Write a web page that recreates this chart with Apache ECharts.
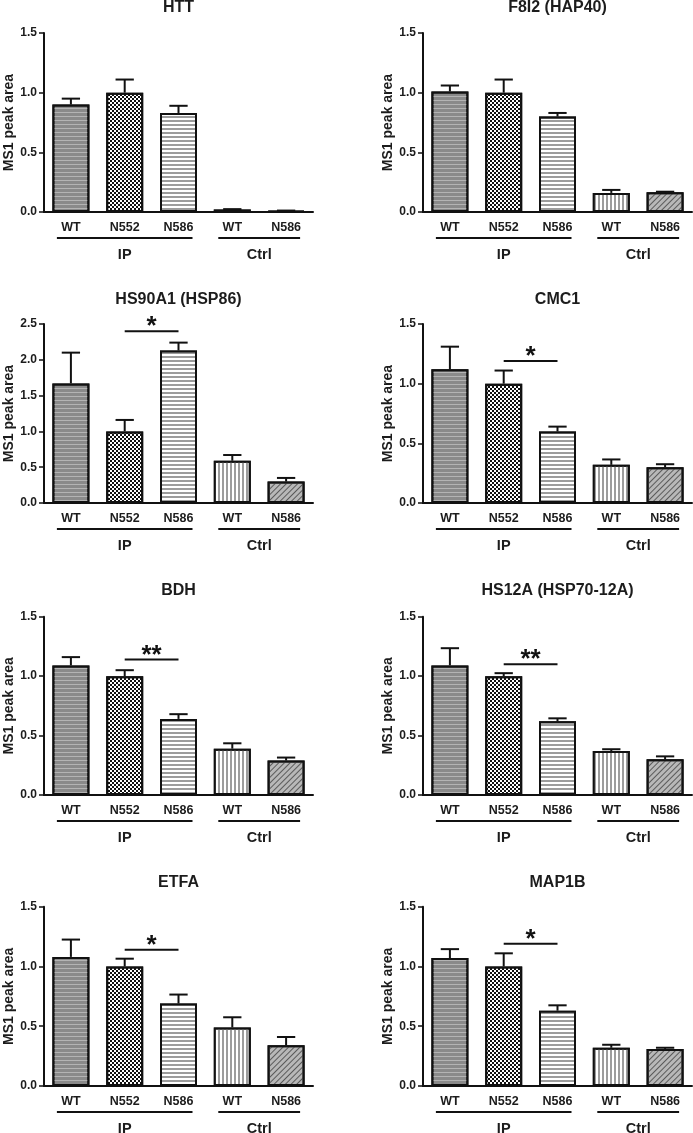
<!DOCTYPE html>
<html><head><meta charset="utf-8">
<script src="https://cdn.jsdelivr.net/npm/echarts@6/dist/echarts.min.js"></script>
<style>html,body{margin:0;padding:0;background:#fff}#c{width:693px;height:1133px}</style>
</head><body><div id="c"></div>
<script>
// ---- data ----
const categories = ['WT', 'N552', 'N586', 'WT', 'N586'];
const groupLabels = ['IP', 'Ctrl'];
const groupStart = [0, 3];
const groupEnd = [2, 4];
const titles = ['HTT', 'F8I2 (HAP40)', 'HS90A1 (HSP86)', 'CMC1', 'BDH', 'HS12A (HSP70-12A)', 'ETFA', 'MAP1B'];
const yMax = [1.5, 1.5, 2.5, 1.5, 1.5, 1.5, 1.5, 1.5];

const httMean = [0.90, 1.00, 0.83, 0.02, 0.01];
const httSem = [0.05, 0.11, 0.06, 0.004, 0.002];
const f8i2Mean = [1.01, 1.00, 0.80, 0.16, 0.165];
const f8i2Sem = [0.05, 0.11, 0.03, 0.025, 0.005];
const hs90Mean = [1.67, 1.00, 2.13, 0.59, 0.30];
const hs90Sem = [0.43, 0.16, 0.11, 0.08, 0.05];
const cmc1Mean = [1.12, 1.00, 0.60, 0.32, 0.30];
const cmc1Sem = [0.19, 0.11, 0.04, 0.045, 0.025];
const bdhMean = [1.09, 1.00, 0.64, 0.39, 0.29];
const bdhSem = [0.07, 0.05, 0.04, 0.045, 0.025];
const hs12Mean = [1.09, 1.00, 0.62, 0.37, 0.30];
const hs12Sem = [0.145, 0.025, 0.025, 0.015, 0.025];
const etfaMean = [1.08, 1.00, 0.69, 0.49, 0.34];
const etfaSem = [0.145, 0.065, 0.075, 0.085, 0.07];
const map1bMean = [1.07, 1.00, 0.63, 0.32, 0.31];
const map1bSem = [0.075, 0.11, 0.045, 0.025, 0.01];

// significance: [from index, to index, y value, label]
const sigHS90 = [1, 2, 2.40, '*'];
const sigCMC1 = [1, 2, 1.19, '*'];
const sigBDH = [1, 2, 1.14, '**'];
const sigHS12 = [1, 2, 1.10, '**'];
const sigETFA = [1, 2, 1.14, '*'];
const sigMAP1B = [1, 2, 1.19, '*'];

const means = [httMean, f8i2Mean, hs90Mean, cmc1Mean, bdhMean, hs12Mean, etfaMean, map1bMean];
const sems = [httSem, f8i2Sem, hs90Sem, cmc1Sem, bdhSem, hs12Sem, etfaSem, map1bSem];
const sigs = [null, null, sigHS90, sigCMC1, sigBDH, sigHS12, sigETFA, sigMAP1B];

// ---- layout / style ----
const FONT = '"Liberation Sans", Arial, Helvetica, sans-serif';
const INK = '#1c1c1c';
const colLeft = [44, 423];
const plotW = 269;
const rowTop = [33, 324, 616.7, 906.7];
const rowH = [179, 179, 178.3, 179.3];
const titleY = [8, 299.5, 591, 882.5];

const barStyles = [
  { color: '#8a8a8a', decal: { symbol: 'rect', symbolSize: 1, color: 'rgba(215,215,215,0.55)', dashArrayX: [1, 0], dashArrayY: [1, 2.2] } },
  { color: '#ffffff', decal: { symbol: 'rect', symbolSize: 1, color: '#111111', dashArrayX: [[2, 2], [0, 2, 2, 0]], dashArrayY: [2, 0] } },
  { color: '#ffffff', decal: { symbol: 'rect', symbolSize: 1, color: '#9c9c9c', dashArrayX: [1, 0], dashArrayY: [1.3, 1.7] } },
  { color: '#ffffff', decal: { symbol: 'rect', symbolSize: 1, color: '#9c9c9c', dashArrayX: [1, 0], dashArrayY: [1.3, 1.7], rotation: Math.PI / 2 } },
  { color: '#b8b8b8', decal: { symbol: 'rect', symbolSize: 1, color: '#5a5a5a', dashArrayX: [1, 0], dashArrayY: [1, 2.4], rotation: -Math.PI / 4 } }
];

const grids = [], xAxes = [], yAxes = [], series = [], titleOpts = [];

for (let i = 0; i < 8; i++) {
  const col = i % 2, row = Math.floor(i / 2);
  grids.push({ left: colLeft[col], top: rowTop[row], width: plotW, height: rowH[row], outerBoundsMode: 'none', containLabel: false });
  titleOpts.push({
    text: titles[i], left: colLeft[col] + plotW / 2, top: titleY[row] - 8, textAlign: 'center', padding: 0,
    textStyle: { fontFamily: FONT, fontSize: 16, fontWeight: 'bold', color: INK }
  });
  xAxes.push({
    type: 'category', gridIndex: i, data: categories,
    axisLine: { lineStyle: { color: '#111', width: 2 } },
    axisTick: { show: false },
    axisLabel: { interval: 0, margin: 9, fontFamily: FONT, fontSize: 12.5, fontWeight: 'bold', color: INK }
  });
  yAxes.push({
    type: 'value', gridIndex: i, min: 0, max: yMax[i], interval: 0.5,
    name: 'MS1 peak area', nameLocation: 'middle', nameGap: 28,
    nameTextStyle: { fontFamily: FONT, fontSize: 14, fontWeight: 'bold', color: INK },
    axisLine: { show: true, lineStyle: { color: '#111', width: 2 } },
    axisTick: { show: true, length: 5, lineStyle: { color: '#111', width: 1.5 } },
    splitLine: { show: false },
    axisLabel: { margin: 7, fontFamily: FONT, fontSize: 12, fontWeight: 'bold', color: INK, formatter: v => v.toFixed(1) }
  });
  series.push({
    type: 'bar', xAxisIndex: i, yAxisIndex: i, barWidth: 37,
    data: means[i].map((v, j) => ({ value: v, itemStyle: { color: barStyles[j].color, decal: barStyles[j].decal } })),
    itemStyle: { borderColor: '#111', borderWidth: 2 },
    emphasis: { disabled: true }, silent: true, z: 2
  });
  series.push({
    type: 'custom', xAxisIndex: i, yAxisIndex: i, clip: false, silent: true, z: 3,
    data: means[i].map((v, j) => [j, v, sems[i][j]]),
    renderItem: (params, api) => {
      const x = api.value(0), v = api.value(1), e = api.value(2);
      const p0 = api.coord([x, v]), p1 = api.coord([x, v + e]);
      const hw = api.size([1, 0])[0] * 0.17;
      return { type: 'group', children: [
        { type: 'line', shape: { x1: p0[0], y1: p0[1], x2: p1[0], y2: p1[1] }, style: { stroke: '#111', lineWidth: 2 } },
        { type: 'line', shape: { x1: p0[0] - hw, y1: p1[1], x2: p0[0] + hw, y2: p1[1] }, style: { stroke: '#111', lineWidth: 2 } }
      ] };
    }
  });
  series.push({
    type: 'custom', xAxisIndex: i, yAxisIndex: i, clip: false, silent: true, z: 3,
    data: groupLabels.map((g, k) => [groupStart[k], groupEnd[k]]),
    renderItem: (params, api) => {
      const a = api.coord([api.value(0), 0]), b = api.coord([api.value(1), 0]);
      const pad = 14, y = a[1] + 26;
      return { type: 'group', children: [
        { type: 'line', shape: { x1: a[0] - pad, y1: y, x2: b[0] + pad, y2: y }, style: { stroke: '#111', lineWidth: 2 } },
        { type: 'text', x: (a[0] + b[0]) / 2, y: y + 17, style: { text: groupLabels[params.dataIndex], fill: INK, font: 'bold 14.5px ' + FONT, align: 'center', verticalAlign: 'middle' } }
      ] };
    }
  });
  if (sigs[i]) {
    const s = sigs[i];
    series.push({
      type: 'custom', xAxisIndex: i, yAxisIndex: i, clip: false, silent: true, z: 3,
      data: [[s[0], s[2], s[1]]],
      renderItem: (params, api) => {
        const a = api.coord([api.value(0), api.value(1)]), b = api.coord([api.value(2), api.value(1)]);
        return { type: 'group', children: [
          { type: 'line', shape: { x1: a[0], y1: a[1], x2: b[0], y2: b[1] }, style: { stroke: '#111', lineWidth: 2 } },
          { type: 'text', x: (a[0] + b[0]) / 2, y: a[1] - 4, style: { text: s[3], fill: '#111', font: 'bold 26px ' + FONT, align: 'center', verticalAlign: 'middle' } }
        ] };
      }
    });
  }
}

const chart = echarts.init(document.getElementById('c'), null, { renderer: 'canvas' });
chart.setOption({
  animation: false,
  backgroundColor: '#ffffff',
  aria: { enabled: true, decal: { show: true } },
  title: titleOpts,
  grid: grids, xAxis: xAxes, yAxis: yAxes, series: series
});
</script></body></html>
